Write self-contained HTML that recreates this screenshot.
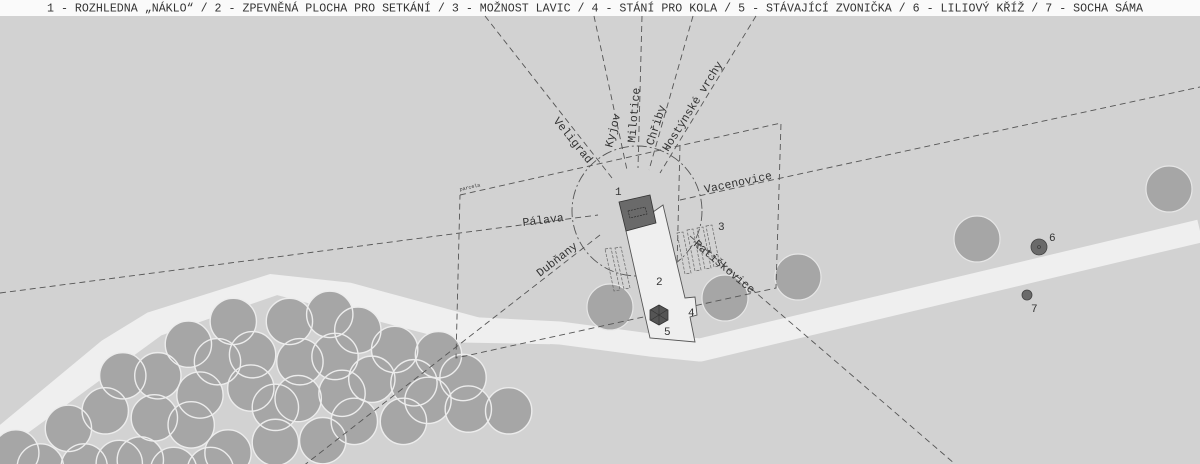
<!DOCTYPE html>
<html><head><meta charset="utf-8"><style>
html,body{margin:0;padding:0;background:#d2d2d2;width:1200px;height:464px;overflow:hidden}
svg{display:block}
text{font-family:"Liberation Mono","DejaVu Sans Mono",monospace;fill:#333}
</style></head><body>
<svg width="1200" height="464" viewBox="0 0 1200 464" xmlns="http://www.w3.org/2000/svg">
<defs>
<g id="tr">
<circle cx="665" cy="175" r="66"/><circle cx="825" cy="175" r="66"/><circle cx="940" cy="155" r="66"/><circle cx="1020" cy="200" r="66"/>
<circle cx="537" cy="240" r="66"/><circle cx="620" cy="290" r="66"/><circle cx="720" cy="270" r="66"/><circle cx="855" cy="290" r="66"/>
<circle cx="955" cy="275" r="66"/><circle cx="1125" cy="255" r="66"/><circle cx="1250" cy="270" r="66"/><circle cx="350" cy="330" r="66"/>
<circle cx="450" cy="330" r="66"/><circle cx="570" cy="385" r="66"/><circle cx="715" cy="365" r="66"/><circle cx="850" cy="395" r="66"/>
<circle cx="975" cy="380" r="66"/><circle cx="1060" cy="340" r="66"/><circle cx="1180" cy="350" r="66"/><circle cx="1320" cy="335" r="66"/>
<circle cx="300" cy="430" r="66"/><circle cx="440" cy="450" r="66"/><circle cx="545" cy="470" r="66"/><circle cx="785" cy="420" r="66"/>
<circle cx="1010" cy="460" r="66"/><circle cx="1150" cy="460" r="66"/><circle cx="1220" cy="400" r="66"/><circle cx="1335" cy="425" r="66"/>
<circle cx="1450" cy="430" r="66"/><circle cx="195" cy="480" r="66"/><circle cx="650" cy="550" r="66"/><circle cx="785" cy="520" r="66"/>
<circle cx="920" cy="515" r="66"/><circle cx="45" cy="550" r="66"/><circle cx="115" cy="590" r="66"/><circle cx="240" cy="590" r="66"/>
<circle cx="340" cy="580" r="66"/><circle cx="400" cy="570" r="66"/><circle cx="495" cy="600" r="66"/><circle cx="600" cy="600" r="66"/>
</g>
</defs>
<rect width="1200" height="464" fill="#d2d2d2"/>
<rect width="1200" height="16" fill="#fafafa"/>
<text x="47" y="11.5" font-size="11.5" textLength="1096" lengthAdjust="spacingAndGlyphs" fill="#444">1 - ROZHLEDNA „NÁKLO“ / 2 - ZPEVNĚNÁ PLOCHA PRO SETKÁNÍ / 3 - MOŽNOST LAVIC / 4 - STÁNÍ PRO KOLA / 5 - STÁVAJÍCÍ ZVONIČKA / 6 - LILIOVÝ KŘÍŽ / 7 - SOCHA SÁMA</text>

<polyline points="460,328 560,333 650,345 700,350 1200,231" fill="none" stroke="#efefef" stroke-width="23" stroke-linejoin="round"/>
<g transform="translate(0,260) scale(0.3508)">
<polygon points="0,470 290,230 420,150 770,40 1000,65 1370,165 1568,175 1568,240 1310,235 1080,175 790,100 460,215 70,500 0,560" fill="#efefef"/>
<use href="#tr" fill="#a6a6a6"/>
<use href="#tr" fill="none" stroke="#ececec" stroke-width="4"/>
</g>

<g fill="#a6a6a6" stroke="#e6e6e6" stroke-width="1.2">
<circle cx="610" cy="307" r="23"/><circle cx="725" cy="298" r="23"/><circle cx="798" cy="277" r="23"/>
<circle cx="977" cy="239" r="23"/><circle cx="1169" cy="189" r="23"/>
</g>

<g fill="none" stroke="#555" stroke-width="0.9" stroke-dasharray="6,4">
<line x1="485" y1="16" x2="612" y2="178"/>
<line x1="594" y1="16" x2="627" y2="170"/>
<line x1="642" y1="16" x2="638" y2="168"/>
<line x1="693" y1="16" x2="649" y2="170"/>
<line x1="756" y1="16" x2="660" y2="173"/>
<line x1="0" y1="293" x2="598" y2="215"/>
<line x1="680" y1="200" x2="1200" y2="87"/>
<line x1="600" y1="235" x2="298" y2="470"/>
<line x1="690" y1="236" x2="955" y2="464"/>
<polyline points="460,195 781,123 776,288 456,358 460,195"/>
<line x1="680" y1="145" x2="676" y2="308"/>
<circle cx="637" cy="211" r="65" stroke-dasharray="10,3,2,3"/>
</g>
<text x="460" y="191" font-size="5" transform="rotate(-13 460 191)">parcela</text>

<g fill="none" stroke="#666" stroke-width="0.7" stroke-dasharray="3,1.5">
<polygon points="605,249 611,248 620,290 614,291"/>
<polygon points="615,248 621,247 630,288 624,289"/>
<polygon points="677,233 683,232 691,273 685,274"/>
<polygon points="687,230 693,229 701,270 695,271"/>
<polygon points="697,228 703,227 711,268 705,269"/>
<polygon points="706,226 712,225 720,266 714,267"/>
</g>

<polygon points="626,231 663,205 685,298 695,297 697,315 690,317 695,342 650,338" fill="#efefef" stroke="#555" stroke-width="0.9"/>
<polygon points="619,202 650,195 656,223 626,231" fill="#6a6a6a" stroke="#333" stroke-width="0.8"/>
<polygon points="628,211 645,207 647,214 630,218" fill="none" stroke="#222" stroke-width="0.6" stroke-dasharray="2,1"/>
<polygon points="659,305 668,310 668,320 659,325 650,320 650,310" fill="#555" stroke="#333" stroke-width="0.8"/>
<path d="M651,310 L667,320 M651,320 L667,310 M659,305 L659,325" stroke="#333" stroke-width="0.6"/>

<circle cx="1039" cy="247" r="8" fill="#6a6a6a" stroke="#444" stroke-width="0.8"/>
<circle cx="1039" cy="247" r="1.5" fill="none" stroke="#333" stroke-width="0.6"/>
<circle cx="1027" cy="295" r="5" fill="#6a6a6a" stroke="#444" stroke-width="0.8"/>

<g font-size="11" fill="#333">
<text x="615" y="195">1</text><text x="656" y="285">2</text><text x="718" y="230">3</text>
<text x="688" y="316">4</text><text x="664" y="335">5</text><text x="1049" y="241">6</text><text x="1031" y="312">7</text>
</g>

<g font-size="11.5">
<text transform="translate(553,121) rotate(51)">Veligrad</text>
<text transform="translate(612,148) rotate(-76)">Kyjov</text>
<text transform="translate(635,143) rotate(-85)">Milotice</text>
<text transform="translate(653,146) rotate(-72)">Chřiby</text>
<text transform="translate(668,152) rotate(-58)">Hostýnské vrchy</text>
<text transform="translate(523,226) rotate(-7)">Pálava</text>
<text transform="translate(705,193) rotate(-12)">Vacenovice</text>
<text transform="translate(540,277) rotate(-38)">Dubňany</text>
<text transform="translate(693,245) rotate(40)">Ratiškovice</text>
</g>
</svg>
</body></html>
